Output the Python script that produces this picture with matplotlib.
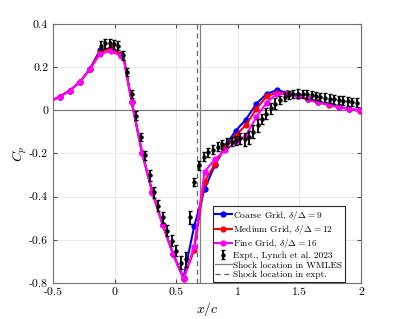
import numpy as np
import matplotlib
matplotlib.use("Agg")
import matplotlib.pyplot as plt
from matplotlib.ticker import FuncFormatter
from matplotlib.lines import Line2D

plt.rcParams['font.family'] = 'cmr10'
plt.rcParams['mathtext.fontset'] = 'cm'
plt.rcParams['axes.unicode_minus'] = False
plt.rcParams['axes.formatter.use_mathtext'] = True

# WMLES stations (the 0.075 point has no marker)
x_les = [-0.531, -0.447, -0.366, -0.282, -0.201, -0.12, -0.033, 0.049, 0.075,
         0.138, 0.222, 0.306, 0.39, 0.474, 0.559, 0.645, 0.73, 0.813, 0.898,
         0.981, 1.065, 1.15, 1.233, 1.317, 1.4, 1.485, 1.566, 1.653, 1.737,
         1.821, 1.905, 1.99]
marked = [True] * 8 + [False] + [True] * 23

cp_coarse = [0.040, 0.063, 0.091, 0.131, 0.192, 0.277, 0.287, 0.262, 0.240,
             0.040, -0.196, -0.378, -0.530, -0.665, -0.775, -0.538, -0.364,
             -0.255, -0.165, -0.096, -0.043, 0.030, 0.076, 0.093, 0.082,
             0.070, 0.052, 0.037, 0.027, 0.015, 0.006, 0.000]
cp_medium = [0.040, 0.063, 0.091, 0.131, 0.190, 0.268, 0.288, 0.258, 0.238,
             0.040, -0.196, -0.380, -0.531, -0.667, -0.780, -0.648, -0.330,
             -0.250, -0.172, -0.118, -0.068, 0.006, 0.065, 0.082, 0.078,
             0.068, 0.051, 0.036, 0.026, 0.014, 0.005, -0.004]
cp_fine = [0.040, 0.062, 0.090, 0.130, 0.189, 0.259, 0.276, 0.251, 0.230,
           0.039, -0.196, -0.384, -0.532, -0.668, -0.782, -0.633, -0.284,
           -0.228, -0.185, -0.147, -0.118, -0.031, 0.035, 0.077, 0.074,
           0.067, 0.051, 0.036, 0.027, 0.015, 0.006, 0.000]

# Experiment (Lynch et al. 2023)
x_exp = [-0.114, -0.079, -0.041, -0.006, 0.03, 0.07, 0.10, 0.138, 0.173, 0.211,
         0.244, 0.287, 0.32, 0.355, 0.393, 0.428, 0.463, 0.501, 0.537, 0.577,
         0.61, 0.645, 0.685, 0.721, 0.757, 0.794, 0.835, 0.873, 0.911, 0.949,
         0.984, 1.02, 1.055, 1.09, 1.125, 1.16, 1.195, 1.23, 1.268, 1.305,
         1.34, 1.38, 1.415, 1.45, 1.49, 1.525, 1.56, 1.6, 1.635, 1.67, 1.71,
         1.745, 1.78, 1.82, 1.855, 1.89, 1.93, 1.965]
cp_exp = [0.300, 0.310, 0.312, 0.305, 0.300, 0.255, 0.178, 0.075, -0.025,
          -0.124, -0.209, -0.302, -0.380, -0.442, -0.496, -0.558, -0.605,
          -0.651, -0.706, -0.690, -0.496, -0.333, -0.255, -0.215, -0.195,
          -0.182, -0.168, -0.158, -0.150, -0.145, -0.140, -0.130, -0.135,
          -0.125, -0.100, -0.070, -0.040, -0.015, 0.010, 0.030, 0.047, 0.062,
          0.070, 0.075, 0.077, 0.076, 0.074, 0.070, 0.066, 0.062, 0.058,
          0.054, 0.051, 0.048, 0.045, 0.042, 0.039, 0.035]
err_exp = [0.02, 0.02, 0.02, 0.02, 0.02, 0.02, 0.02, 0.02, 0.02, 0.02,
           0.02, 0.025, 0.025, 0.025, 0.025, 0.025, 0.025, 0.025, 0.03, 0.035,
           0.03, 0.02, 0.02, 0.02, 0.02, 0.02, 0.02, 0.02, 0.02, 0.02,
           0.02, 0.025, 0.03, 0.03, 0.03, 0.03, 0.025, 0.025, 0.025, 0.025,
           0.02, 0.02, 0.02, 0.02, 0.02, 0.02, 0.02, 0.02, 0.02, 0.02,
           0.02, 0.02, 0.02, 0.02, 0.02, 0.02, 0.02, 0.02]

shock_les = 0.695
shock_exp = 0.665

fig = plt.figure(figsize=(3.99, 3.19), dpi=100)
ax = fig.add_axes([0.133, 0.113, 0.772, 0.812])

ax.axhline(0, color='0.45', lw=0.8, zorder=1)
ax.axvline(shock_les, color='0.5', lw=0.9, zorder=1)
ax.axvline(shock_exp, color='0.4', lw=0.9, ls=(0, (4, 3)), zorder=1)

l1, = ax.plot(x_les, cp_coarse, '-o', color='#0000ff', lw=1.5, ms=3.5, markevery=marked, zorder=3)
l2, = ax.plot(x_les, cp_medium, '-o', color='#ff0000', lw=1.5, ms=3.5, markevery=marked, zorder=3)
l3, = ax.plot(x_les, cp_fine, '-o', color='#ff00ff', lw=1.5, ms=3.5, markevery=marked, zorder=3)
eb = ax.errorbar(x_exp, cp_exp, yerr=err_exp, fmt='o', color='k', ms=2.2,
                 elinewidth=1.3, capsize=1.5, capthick=1.0, zorder=4)

h5 = Line2D([], [], color='0.5', lw=0.9)
h6 = Line2D([], [], color='0.4', lw=0.9, ls=(0, (4, 3)))

leg = ax.legend([l1, l2, l3, eb, h5, h6],
                [r'Coarse Grid, $\delta/\Delta = 9$',
                 r'Medium Grid, $\delta/\Delta = 12$',
                 r'Fine Grid, $\delta/\Delta = 16$',
                 'Expt., Lynch et al. 2023',
                 'Shock location in WMLES',
                 'Shock location in expt.'],
                loc='lower right', bbox_to_anchor=(0.947, 0.005), fontsize=6.8,
                handlelength=1.7, handletextpad=0.2, borderpad=0.25,
                labelspacing=0.12, borderaxespad=0, fancybox=False,
                framealpha=1)
leg.get_frame().set_edgecolor('0.15')
leg.get_frame().set_linewidth(0.8)

ax.set_xlim(-0.5, 2)
ax.set_ylim(-0.8, 0.4)
ax.set_xticks([-0.5, 0, 0.5, 1, 1.5, 2])
ax.set_yticks([-0.8, -0.6, -0.4, -0.2, 0, 0.2, 0.4])
ax.xaxis.set_major_formatter(FuncFormatter(lambda v, p: '%g' % v))
ax.yaxis.set_major_formatter(FuncFormatter(lambda v, p: '%g' % v))
ax.grid(True, color='0.9', lw=0.6)
ax.set_axisbelow(True)
ax.tick_params(direction='in', top=True, right=True, labelsize=8.5,
               length=3, color='0.3')
for s in ax.spines.values():
    s.set_color('0.45')
    s.set_linewidth(0.8)

ax.set_xlabel(r'$x/c$', fontsize=10, labelpad=2)
ax.set_ylabel(r'$C_p$', fontsize=10, labelpad=0)

fig.savefig('out.png', dpi=100)
